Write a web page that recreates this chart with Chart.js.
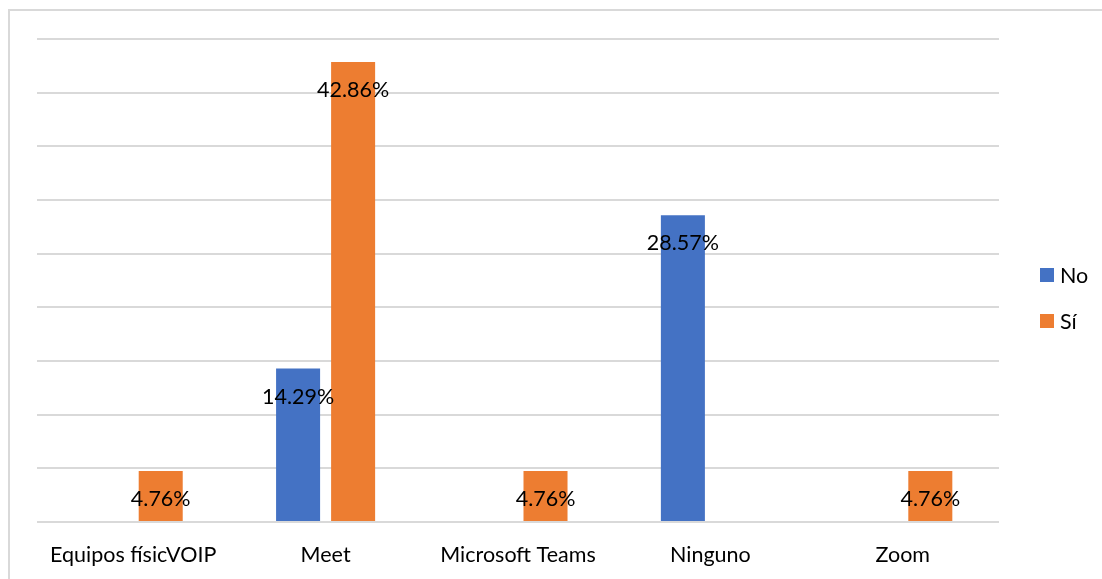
<!DOCTYPE html>
<html>
<head>
<meta charset="utf-8">
<script src="https://cdn.jsdelivr.net/npm/chart.js@4.4.1/dist/chart.umd.min.js"></script>
<style>
 body { margin: 0; background: #fff; overflow: hidden; }
 #frame { position: absolute; left: 8px; top: 9px; width: 1200px; height: 700px; border: 2px solid #d9d9d9; }
 #wrap { position: absolute; left: 0; top: 0; width: 1102px; height: 579px; }
</style>
</head>
<body>
<div id="frame"></div>
<div id="wrap"><canvas id="myChart"></canvas></div>
<script>
// chart data
let categories = ['Equipos físicVOIP', 'Meet', 'Microsoft Teams', 'Ninguno', 'Zoom'];
let noValues = [null, 14.29, null, 28.57, null];
let siValues = [4.76, 42.86, 4.76, null, 4.76];
let seriesNames = ['No', 'Sí'];
let seriesColors = ['#4472C4', '#ED7D31'];

const FONT = 'Lato, Calibri, sans-serif';
const FSIZE = 21.5;

// draws the value labels inside the top of each bar
const barLabels = {
 id: 'barLabels',
 afterDatasetsDraw(chart) {
  const ctx = chart.ctx;
  ctx.save();
  ctx.font = FSIZE + 'px ' + FONT;
  ctx.fillStyle = '#000';
  ctx.textAlign = 'center';
  ctx.textBaseline = 'middle';
  chart.data.datasets.forEach(function(ds, i) {
   chart.getDatasetMeta(i).data.forEach(function(bar, j) {
    if (ds.data[j] == null) return;
    ctx.fillText(ds.data[j].toFixed(2) + '%', bar.x, bar.y + 28);
   });
  });
  ctx.restore();
 }
};

// legend on the right, like the original
const sideLegend = {
 id: 'sideLegend',
 afterDraw(chart) {
  const ctx = chart.ctx;
  ctx.save();
  ctx.font = FSIZE + 'px ' + FONT;
  ctx.textBaseline = 'middle';
  chart.data.datasets.forEach(function(ds, i) {
   let y = 275 + i * 46;
   ctx.fillStyle = ds.backgroundColor;
   ctx.fillRect(1040, y - 7, 14, 14);
   ctx.fillStyle = '#000';
   ctx.fillText(ds.label, 1060, y + 1);
  });
  ctx.restore();
 }
};

var ctx = document.getElementById('myChart').getContext('2d');
var myChart = new Chart(ctx, {
 type: 'bar',
 data: {
  labels: categories,
  datasets: [{
   label: seriesNames[0],
   data: noValues,
   backgroundColor: seriesColors[0]
  }, {
   label: seriesNames[1],
   data: siValues,
   backgroundColor: seriesColors[1]
  }]
 },
 options: {
  responsive: true,
  maintainAspectRatio: false,
  animation: false,
  categoryPercentage: 0.572,
  barPercentage: 0.8,
  layout: { padding: { left: 37, right: 103, top: 39, bottom: 0 } },
  plugins: {
   legend: { display: false },
   tooltip: { enabled: false }
  },
  scales: {
   x: {
    grid: { display: false, drawTicks: false },
    border: { display: false },
    ticks: { color: '#000', font: { family: FONT, size: FSIZE }, padding: 20, maxRotation: 0 },
    afterFit: function(scale) { scale.height = 57; }
   },
   y: {
    min: 0,
    max: 45,
    ticks: { display: false, stepSize: 5 },
    border: { display: false },
    grid: { color: '#d9d9d9', lineWidth: 2, drawTicks: false }
   }
  }
 },
 plugins: [barLabels, sideLegend]
});
</script>
</body>
</html>
